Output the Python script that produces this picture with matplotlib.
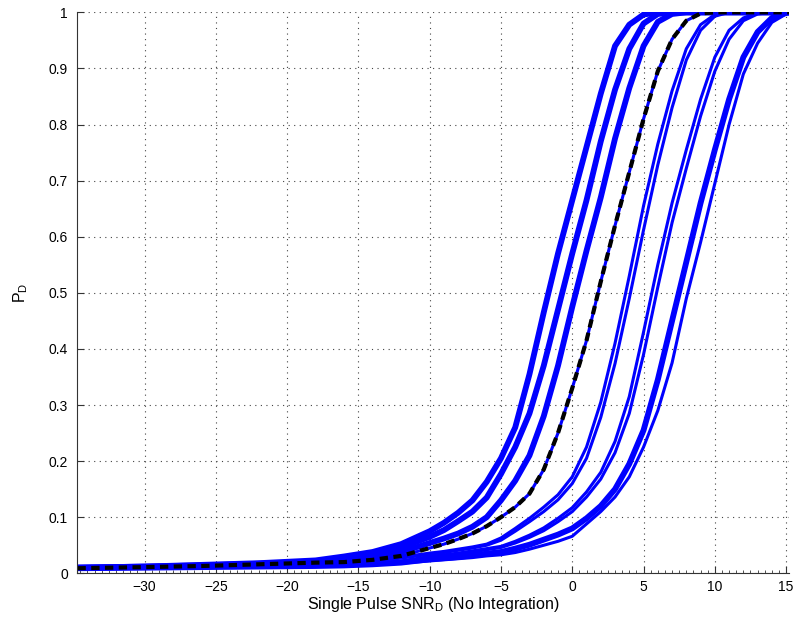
import matplotlib
matplotlib.use('Agg')
import matplotlib.pyplot as plt
from matplotlib.ticker import MultipleLocator

plt.rcParams['font.family'] = ['Liberation Sans', 'DejaVu Sans']
plt.rcParams['mathtext.fontset'] = 'custom'
plt.rcParams['mathtext.rm'] = 'Liberation Sans'
plt.rcParams['mathtext.it'] = 'Liberation Sans'

# single pulse SNR grid (dB)
snr = [-34.7, -30, -26, -22, -18, -16, -14, -12, -10, -9, -8, -7, -6, -5, -4, -3,
       -2, -1, 0, 1, 2, 3, 4, 5, 6, 7, 8, 9, 10, 11, 12, 13, 14, 15, 15.4]

# detection probability curves, left to right
pd_a = [0.010, 0.012, 0.015, 0.018, 0.023, 0.030, 0.038, 0.052, 0.075, 0.090, 0.108, 0.130,
        0.163, 0.205, 0.26, 0.355, 0.465, 0.57, 0.665, 0.76, 0.855, 0.94, 0.978, 0.996, 1.0,
        1.0, 1.0, 1.0, 1.0, 1.0, 1.0, 1.0, 1.0, 1.0, 1.0]
pd_b = [0.010, 0.012, 0.014, 0.017, 0.021, 0.027, 0.033, 0.046, 0.065, 0.077, 0.093, 0.110,
        0.135, 0.177, 0.225, 0.285, 0.37, 0.47, 0.57, 0.665, 0.77, 0.862, 0.935, 0.98, 0.997,
        1.0, 1.0, 1.0, 1.0, 1.0, 1.0, 1.0, 1.0, 1.0, 1.0]
pd_c = [0.010, 0.011, 0.013, 0.016, 0.019, 0.023, 0.028, 0.038, 0.054, 0.062, 0.071, 0.083,
        0.100, 0.130, 0.165, 0.21, 0.28, 0.37, 0.475, 0.575, 0.67, 0.775, 0.865, 0.94, 0.983,
        0.997, 1.0, 1.0, 1.0, 1.0, 1.0, 1.0, 1.0, 1.0, 1.0]
pd_d = [0.009, 0.011, 0.013, 0.016, 0.019, 0.020, 0.024, 0.031, 0.045, 0.052, 0.061, 0.071,
        0.084, 0.100, 0.118, 0.142, 0.185, 0.25, 0.33, 0.415, 0.52, 0.62, 0.715, 0.81, 0.895,
        0.952, 0.985, 0.998, 1.0, 1.0, 1.0, 1.0, 1.0, 1.0, 1.0]
pd_e1 = [0.009, 0.010, 0.012, 0.014, 0.017, 0.019, 0.023, 0.029, 0.036, 0.039, 0.043, 0.047,
         0.052, 0.063, 0.080, 0.098, 0.118, 0.140, 0.172, 0.225, 0.305, 0.41, 0.53, 0.655, 0.765,
         0.86, 0.935, 0.978, 0.996, 1.0, 1.0, 1.0, 1.0, 1.0, 1.0]
pd_e2 = [0.009, 0.010, 0.011, 0.013, 0.016, 0.018, 0.022, 0.027, 0.034, 0.037, 0.041, 0.045,
         0.050, 0.059, 0.075, 0.092, 0.110, 0.131, 0.160, 0.205, 0.278, 0.374, 0.49, 0.612, 0.728,
         0.83, 0.915, 0.968, 0.993, 1.0, 1.0, 1.0, 1.0, 1.0, 1.0]
pd_f1 = [0.009, 0.010, 0.011, 0.012, 0.014, 0.015, 0.018, 0.022, 0.030, 0.033, 0.036, 0.040,
         0.044, 0.048, 0.057, 0.068, 0.081, 0.098, 0.117, 0.145, 0.18, 0.235, 0.315, 0.43, 0.55,
         0.66, 0.755, 0.845, 0.92, 0.968, 0.99, 0.999, 1.0, 1.0, 1.0]
pd_f2 = [0.009, 0.010, 0.011, 0.012, 0.013, 0.014, 0.017, 0.021, 0.028, 0.031, 0.034, 0.038,
         0.042, 0.046, 0.054, 0.064, 0.076, 0.092, 0.110, 0.136, 0.168, 0.215, 0.285, 0.39, 0.51,
         0.625, 0.722, 0.815, 0.895, 0.952, 0.985, 0.997, 1.0, 1.0, 1.0]
pd_g = [0.009, 0.010, 0.011, 0.012, 0.013, 0.014, 0.016, 0.019, 0.025, 0.027, 0.029, 0.032,
        0.035, 0.038, 0.044, 0.051, 0.060, 0.069, 0.080, 0.098, 0.12, 0.15, 0.195, 0.255, 0.345,
        0.45, 0.555, 0.66, 0.755, 0.845, 0.92, 0.965, 0.99, 0.999, 1.0]
pd_h = [0.009, 0.010, 0.011, 0.012, 0.013, 0.014, 0.015, 0.018, 0.022, 0.024, 0.026, 0.028,
        0.031, 0.033, 0.037, 0.043, 0.050, 0.057, 0.066, 0.088, 0.11, 0.136, 0.172, 0.225, 0.29,
        0.375, 0.49, 0.59, 0.695, 0.80, 0.89, 0.945, 0.982, 0.997, 1.0]

thick_curves = [pd_a, pd_b, pd_c, pd_g]
thin_curves = [pd_d, pd_e1, pd_e2, pd_f1, pd_f2, pd_h]

fig = plt.figure(figsize=(7.98, 6.28), dpi=100)
ax = fig.add_axes([0.0971, 0.0871, 0.8916, 0.8933])

for pd in thick_curves:
    ax.plot(snr, pd, color='#0000ff', lw=4.2)
for pd in thin_curves:
    ax.plot(snr, pd, color='#0000ff', lw=2.2)
# reference curve
ax.plot(snr, pd_d, color='black', lw=3, ls='--', dashes=(2.0, 1.3))

ax.set_xlim(-34.7, 15.2)
ax.set_ylim(0, 1)
ax.set_xticks([-30, -25, -20, -15, -10, -5, 0, 5, 10, 15])
ax.set_yticks([0, 0.1, 0.2, 0.3, 0.4, 0.5, 0.6, 0.7, 0.8, 0.9, 1])
ax.set_yticklabels(['0', '0.1', '0.2', '0.3', '0.4', '0.5', '0.6', '0.7', '0.8', '0.9', '1'])
ax.xaxis.set_minor_locator(MultipleLocator(0.5))
ax.tick_params(which='major', direction='in', length=5, width=0.8, labelsize=10, color='#333333')
ax.tick_params(which='minor', direction='in', length=2, width=0.6, color='#333333')
ax.tick_params(axis='x', pad=5)
ax.tick_params(axis='y', pad=7)

ax.grid(True, which='major', ls=(0, (1, 4)), color='#444444', lw=0.8)
for side in ['top', 'right']:
    ax.spines[side].set_visible(False)
for side in ['left', 'bottom']:
    ax.spines[side].set_color('#333333')
    ax.spines[side].set_linewidth(0.8)

ax.set_xlabel('Single Pulse SNR$_{\\mathrm{D}}$ (No Integration)', fontsize=11.5, labelpad=0.5)
ax.set_ylabel('P$_{\\mathrm{D}}$', fontsize=11.5, labelpad=13)

fig.savefig('out.png', dpi=100)
